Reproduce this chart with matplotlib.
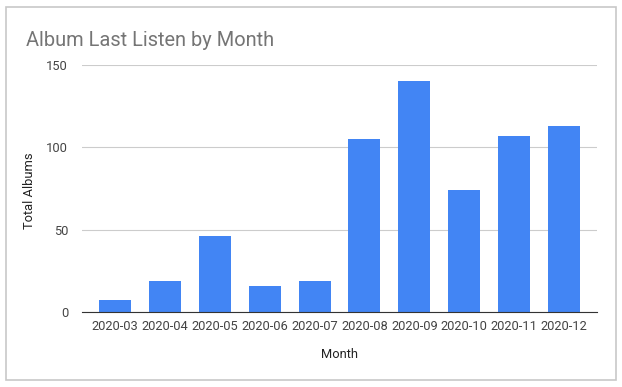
import matplotlib.pyplot as plt
from matplotlib.patches import Rectangle

plt.rcParams['font.family'] = ['Roboto', 'DejaVu Sans']

months = ['2020-03', '2020-04', '2020-05', '2020-06', '2020-07',
          '2020-08', '2020-09', '2020-10', '2020-11', '2020-12']
albums = [7, 19, 46, 16, 19, 105, 140, 74, 107, 113]

W, H = 622, 387
fig = plt.figure(figsize=(W / 100, H / 100), dpi=100)

# outer border like the sheets chart card
fig.patches.append(Rectangle((6 / W, 7 / H), 610 / W, 373 / H, transform=fig.transFigure,
                             fill=False, edgecolor='#c8c8c8', linewidth=1.2))

ax = fig.add_axes([82 / W, 1 - 312 / H, 515 / W, 247 / H])
x = range(len(months))
ax.bar(x, albums, width=0.64, color='#4285F4', zorder=2)

ax.set_xlim(-0.66, len(months) - 0.34)
ax.set_ylim(0, 150)
ax.set_yticks([0, 50, 100, 150])
ax.set_xticks(list(x))
ax.set_xticklabels(months)
ax.grid(axis='y', color='#cccccc', linewidth=0.8, zorder=0)
for s in ['top', 'right', 'left']:
    ax.spines[s].set_visible(False)
ax.spines['bottom'].set_color('#333333')
ax.spines['bottom'].set_zorder(3)
ax.tick_params(length=0, labelsize=9.3, colors='#444444', pad=6)
ax.tick_params(axis='y', pad=10)

ax.set_xlabel('Month', fontsize=9.3, color='#222222')
ax.set_ylabel('Total Albums', fontsize=9.3, color='#222222')
ax.xaxis.set_label_coords(0.5, -0.146)
ax.yaxis.set_label_coords(-0.089, 0.49)

fig.text(26 / W, 1 - 40 / H, 'Album Last Listen by Month', fontsize=14.4, color='#757575',
         va='center', ha='left')

fig.savefig('out.png', dpi=100)
